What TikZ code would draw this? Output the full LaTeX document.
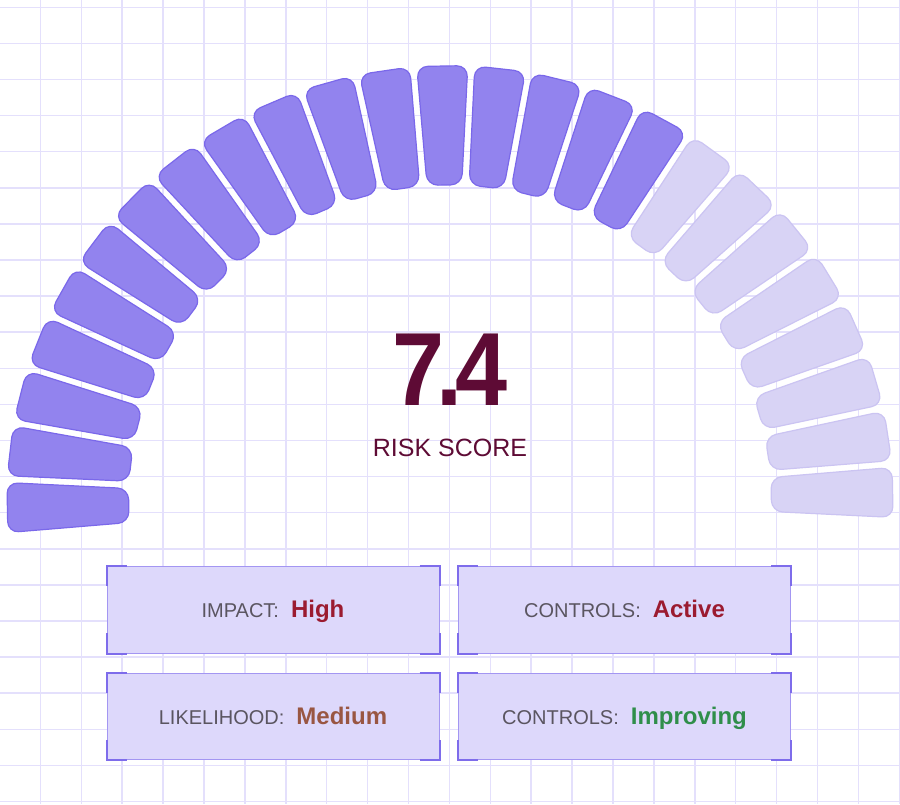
\documentclass[tikz,border=0pt]{standalone}
\usepackage{fontspec}
\setmainfont{Liberation Sans}
\begin{document}
\begin{tikzpicture}[x=1pt,y=1pt,
  seg/.style={rounded corners=11pt,line width=1.2pt},
  dark/.style={seg,fill=segdark,draw=segdarkline},
  light/.style={seg,fill=seglight,draw=seglightline},
  box/.style={draw=boxline,fill=boxfill,line width=1pt,minimum width=332pt,minimum height=86pt,inner sep=0pt},
  corner/.style={draw=cornerc,line width=2pt},
  lab/.style={text=labc,font=\fontsize{20}{24}\selectfont},
  val/.style={font=\bfseries\fontsize{23}{27}\selectfont}]
\definecolor{segdark}{HTML}{9283EE}
\definecolor{segdarkline}{HTML}{7A68EA}
\definecolor{seglight}{HTML}{D8D3F5}
\definecolor{seglightline}{HTML}{CBC4F2}
\definecolor{gridc}{HTML}{E4E0FC}
\definecolor{boxfill}{HTML}{DDD8FB}
\definecolor{boxline}{HTML}{A396F2}
\definecolor{cornerc}{HTML}{7E6CEB}
\definecolor{labc}{HTML}{5A5560}
\definecolor{scorec}{HTML}{5E0B35}
\definecolor{highc}{HTML}{9B1B30}
\definecolor{medc}{HTML}{995642}
\definecolor{goodc}{HTML}{2F8E4A}
\useasboundingbox (0,0) rectangle (900,804);
\fill[white] (0,0) rectangle (900,804);
% grid
\foreach \k in {1,...,22}{\draw[gridc,line width=1.5pt] (\k*40.9-0.5,0) -- (\k*40.9-0.5,804);}
\foreach \k in {0,...,22}{\draw[gridc,line width=1.5pt] (0,804-7.3-\k*36.1) -- (900,804-7.3-\k*36.1);}
% gauge
\coordinate (c) at (450,304);
\foreach \i in {0,...,24}{
  \pgfmathsetmacro{\a}{181-\i*7.5}
  \ifnum\i<17 \def\st{dark}\else\def\st{light}\fi
  \begin{scope}[shift={(c)},xscale=1.02,rotate=\a]
    \draw[\st] (315,-17) -- (434,-25) -- (434,25) -- (315,17) -- cycle;
  \end{scope}
}
\node[text=scorec,font=\bfseries\fontsize{104}{110}\selectfont,inner sep=0pt] (score) at (450,434) {\scalebox{0.9}[1]{7\kern-0.08em.\kern-0.08em4}};
\node[text=scorec,font=\fontsize{25}{30}\selectfont,inner sep=0pt] (rs) at (450,356) {RISK SCORE};
% boxes
\node[box] (b1) at (273,194) {};
\node[box] (b2) at (624.5,194) {};
\node[box] (b3) at (273,88) {};
\node[box] (b4) at (624.5,88) {};
\foreach \b in {b1,b2,b3,b4}{
  \draw[corner] ([xshift=20pt]\b.north west) -- (\b.north west) -- ([yshift=-20pt]\b.north west);
  \draw[corner] ([xshift=-20pt]\b.north east) -- (\b.north east) -- ([yshift=-20pt]\b.north east);
  \draw[corner] ([xshift=20pt]\b.south west) -- (\b.south west) -- ([yshift=20pt]\b.south west);
  \draw[corner] ([xshift=-20pt]\b.south east) -- (\b.south east) -- ([yshift=20pt]\b.south east);
}
\node[anchor=base,inner sep=0pt] (t1) at ([yshift=-8pt]b1.center) {\textcolor{labc}{\fontsize{20}{24}\selectfont IMPACT:}\hspace{12pt}\textcolor{highc}{\bfseries\fontsize{24}{28}\selectfont High}};
\node[anchor=base,inner sep=0pt] (t2) at ([yshift=-8pt]b2.center) {\textcolor{labc}{\fontsize{20}{24}\selectfont CONTROLS:}\hspace{12pt}\textcolor{highc}{\bfseries\fontsize{24}{28}\selectfont Active}};
\node[anchor=base,inner sep=0pt] (t3) at ([yshift=-8pt]b3.center) {\textcolor{labc}{\fontsize{20}{24}\selectfont LIKELIHOOD:}\hspace{12pt}\textcolor{medc}{\bfseries\fontsize{24}{28}\selectfont Medium}};
\node[anchor=base,inner sep=0pt] (t4) at ([yshift=-8pt]b4.center) {\textcolor{labc}{\fontsize{20}{24}\selectfont CONTROLS:}\hspace{12pt}\textcolor{goodc}{\bfseries\fontsize{24}{28}\selectfont Improving}};
\end{tikzpicture}
\end{document}
